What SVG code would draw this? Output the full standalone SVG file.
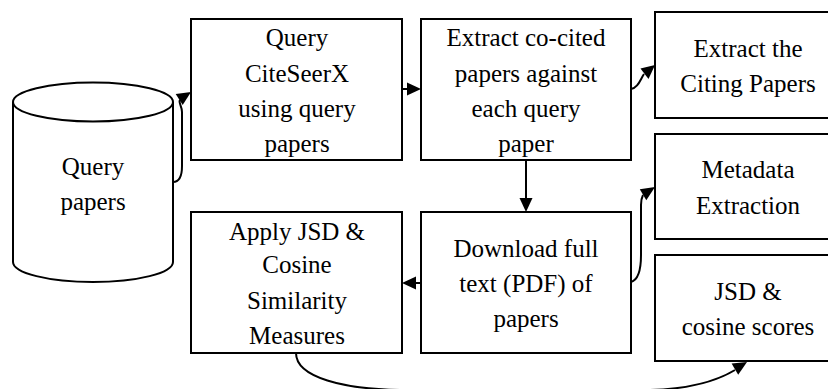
<svg xmlns="http://www.w3.org/2000/svg" width="828" height="389" viewBox="0 0 828 389" font-family="Liberation Serif, Times New Roman, DejaVu Serif, serif">
<style>
.box{fill:#fff;stroke:#000;stroke-width:2}
.c{fill:none;stroke:#000;stroke-width:2}
.ah{fill:#000;stroke:none}
</style>
<rect width="828" height="389" fill="#fff"/>
<g id="query-papers">
<path class="box" d="M13,102 L13,262 A80,20 0 0 0 173,262 L173,102"/>
<ellipse class="box" cx="93" cy="102" rx="80" ry="19.5"/>
<text x="93" y="175" font-size="25" style="font-family:'Liberation Serif','Times New Roman','DejaVu Serif',serif" text-anchor="middle">Query</text>
<text x="93" y="210" font-size="25" style="font-family:'Liberation Serif','Times New Roman','DejaVu Serif',serif" text-anchor="middle">papers</text>
</g>
<g id="query-citeseerx">
<rect class="box" x="191" y="19" width="211" height="141"/>
<text x="297" y="46" font-size="25" style="font-family:'Liberation Serif','Times New Roman','DejaVu Serif',serif" text-anchor="middle">Query</text>
<text x="297" y="82" font-size="25" style="font-family:'Liberation Serif','Times New Roman','DejaVu Serif',serif" text-anchor="middle">CiteSeerX</text>
<text x="297" y="117" font-size="25" style="font-family:'Liberation Serif','Times New Roman','DejaVu Serif',serif" text-anchor="middle">using query</text>
<text x="297" y="152" font-size="25" style="font-family:'Liberation Serif','Times New Roman','DejaVu Serif',serif" text-anchor="middle">papers</text>
</g>
<g id="extract-cocited">
<rect class="box" x="421" y="19" width="210" height="141"/>
<text x="526" y="46" font-size="25" style="font-family:'Liberation Serif','Times New Roman','DejaVu Serif',serif" text-anchor="middle">Extract co-cited</text>
<text x="526" y="82" font-size="25" style="font-family:'Liberation Serif','Times New Roman','DejaVu Serif',serif" text-anchor="middle">papers against</text>
<text x="526" y="117" font-size="25" style="font-family:'Liberation Serif','Times New Roman','DejaVu Serif',serif" text-anchor="middle">each query</text>
<text x="526" y="152" font-size="25" style="font-family:'Liberation Serif','Times New Roman','DejaVu Serif',serif" text-anchor="middle">paper</text>
</g>
<g id="extract-citing">
<rect class="box" x="655" y="12" width="190" height="106"/>
<text x="748" y="57" font-size="25" style="font-family:'Liberation Serif','Times New Roman','DejaVu Serif',serif" text-anchor="middle">Extract the</text>
<text x="748" y="92" font-size="25" style="font-family:'Liberation Serif','Times New Roman','DejaVu Serif',serif" text-anchor="middle">Citing Papers</text>
</g>
<g id="metadata">
<rect class="box" x="655" y="134" width="190" height="105"/>
<text x="748" y="178" font-size="25" style="font-family:'Liberation Serif','Times New Roman','DejaVu Serif',serif" text-anchor="middle">Metadata</text>
<text x="748" y="214" font-size="25" style="font-family:'Liberation Serif','Times New Roman','DejaVu Serif',serif" text-anchor="middle">Extraction</text>
</g>
<g id="jsd-scores">
<rect class="box" x="655" y="255" width="190" height="106"/>
<text x="748" y="300" font-size="25" style="font-family:'Liberation Serif','Times New Roman','DejaVu Serif',serif" text-anchor="middle">JSD &amp;</text>
<text x="748" y="335" font-size="25" style="font-family:'Liberation Serif','Times New Roman','DejaVu Serif',serif" text-anchor="middle">cosine scores</text>
</g>
<g id="download">
<rect class="box" x="421" y="212" width="210" height="141"/>
<text x="526" y="257" font-size="25" style="font-family:'Liberation Serif','Times New Roman','DejaVu Serif',serif" text-anchor="middle">Download full</text>
<text x="526" y="292" font-size="25" style="font-family:'Liberation Serif','Times New Roman','DejaVu Serif',serif" text-anchor="middle">text (PDF) of</text>
<text x="526" y="327" font-size="25" style="font-family:'Liberation Serif','Times New Roman','DejaVu Serif',serif" text-anchor="middle">papers</text>
</g>
<g id="apply-jsd">
<rect class="box" x="191" y="212" width="211" height="141"/>
<text x="297" y="240" font-size="25" style="font-family:'Liberation Serif','Times New Roman','DejaVu Serif',serif" text-anchor="middle">Apply JSD &amp;</text>
<text x="297" y="273" font-size="25" style="font-family:'Liberation Serif','Times New Roman','DejaVu Serif',serif" text-anchor="middle">Cosine</text>
<text x="297" y="309" font-size="25" style="font-family:'Liberation Serif','Times New Roman','DejaVu Serif',serif" text-anchor="middle">Similarity</text>
<text x="297" y="344" font-size="25" style="font-family:'Liberation Serif','Times New Roman','DejaVu Serif',serif" text-anchor="middle">Measures</text>
</g>
<g id="connectors">
<path class="c" d="M173,182 C180,182 182,176 182,166 L182,112 C182,106 178,102 180,100"/>
<polygon class="ah" points="191,92 175.7,94 182.7,105"/>
<path class="c" d="M402,89 L408,89"/>
<polygon class="ah" points="421,89 407,82.5 407,95.5"/>
<path class="c" d="M631,89 C638,88 640,80 644,74"/>
<polygon class="ah" points="655,65 640.5,68.5 648.5,79"/>
<path class="c" d="M526,160 L526,199"/>
<polygon class="ah" points="526,212 519.5,198 532.5,198"/>
<path class="c" d="M631,282 C638,280 641,270 641,255 L641,205 C641,200 642,197 643,195"/>
<polygon class="ah" points="655,187 639.8,189.2 646.3,200.3"/>
<path class="c" d="M421,283 L415,283"/>
<polygon class="ah" points="402,283 416,276.5 416,289.5"/>
<path class="c" d="M296,353 C296,378 345,389 400,390 L650,390 C690,389 715,382 735,370"/>
<polygon class="ah" points="747,362 731.6,363.6 738.2,374.8"/>
</g>
</svg>
